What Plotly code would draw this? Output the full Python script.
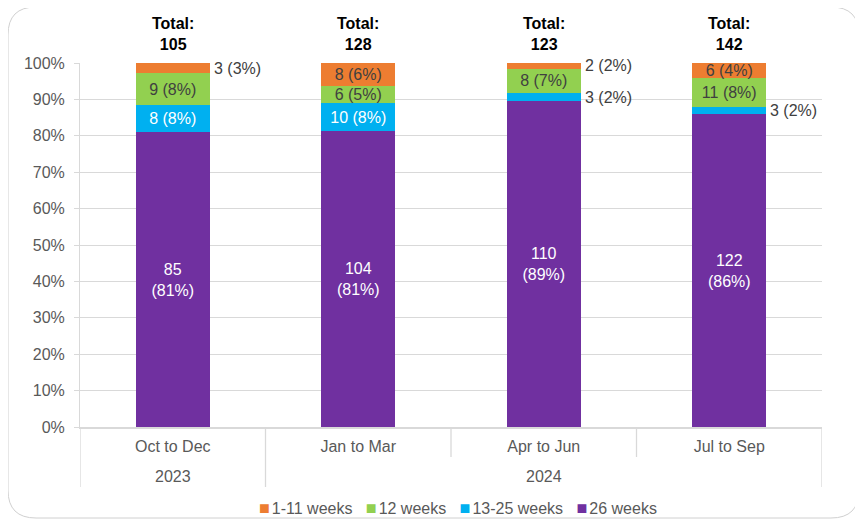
import plotly.graph_objects as go

years = ["2023", "2024"]
year_span = [[0], [1, 2, 3]]  # category indices covered by each year
quarters = ["Oct to Dec", "Jan to Mar", "Apr to Jun", "Jul to Sep"]
totals = [105, 128, 123, 142]

# series (bottom to top in the stack)
series_names = ["26 weeks", "13-25 weeks", "12 weeks", "1-11 weeks"]
legend_order = ["1-11 weeks", "12 weeks", "13-25 weeks", "26 weeks"]
counts = {
    "26 weeks": [85, 104, 110, 122],
    "13-25 weeks": [8, 10, 3, 3],
    "12 weeks": [9, 6, 8, 11],
    "1-11 weeks": [3, 8, 2, 6],
}
pct_labels = {
    "26 weeks": [81, 81, 89, 86],
    "13-25 weeks": [8, 8, 2, 2],
    "12 weeks": [8, 5, 7, 8],
    "1-11 weeks": [3, 6, 2, 4],
}
# which labels sit outside (to the right of) the bar
outside = {
    "26 weeks": [False, False, False, False],
    "13-25 weeks": [False, False, True, True],
    "12 weeks": [False, False, False, False],
    "1-11 weeks": [True, False, True, False],
}
colors = {
    "26 weeks": "#7030A0",
    "13-25 weeks": "#00B0F0",
    "12 weeks": "#92D050",
    "1-11 weeks": "#ED7D31",
}
text_colors = {
    "26 weeks": "white",
    "13-25 weeks": "white",
    "12 weeks": "#404040",
    "1-11 weeks": "#404040",
}

FONT = "Liberation Sans, Arial, sans-serif"
GRID = "#d9d9d9"
FS = 16

# page body adds an 8px offset; size figure to fit the 863x522 window
OFF = 8
W, H = 863 - OFF, 522 - OFF
PL, PR, PT, PB = 80, 822, 63, 427  # plot area in window pixels
L, T = PL - OFF, PT - OFF
R, B = W - (PR - OFF), H - (PB - OFF)
pw, ph = PR - PL, PB - PT
def px(x):
    return (x - PL) / pw
def py(y):
    return (PB - y) / ph

fig = go.Figure()
cum = [0.0] * len(quarters)
annotations = []
for name in series_names:
    vals = counts[name]
    pcts = [v / t * 100 for v, t in zip(vals, totals)]
    texts = []
    for i, (v, p) in enumerate(zip(vals, pct_labels[name])):
        if name == "26 weeks":
            lab = f"{v}<br>({p}%)"
        else:
            lab = f"{v} ({p}%)"
        if outside[name][i]:
            texts.append("")
            annotations.append(dict(
                x=i + 0.2, y=cum[i] + pcts[i] / 2, xref="x", yref="y",
                text=lab, showarrow=False, xanchor="left", yanchor="middle",
                xshift=2, font=dict(family=FONT, size=FS, color="#404040")))
        else:
            texts.append(lab)
    fig.add_trace(go.Bar(
        name=name,
        x=quarters,
        y=pcts,
        text=texts,
        textposition="inside",
        insidetextanchor="middle",
        textangle=0,
        textfont=dict(family=FONT, size=FS, color=text_colors[name]),
        marker=dict(color=colors[name], line=dict(width=0)),
        width=0.4,
        hoverinfo="skip",
        showlegend=False,
    ))
    cum = [c + p for c, p in zip(cum, pcts)]

for i, t in enumerate(totals):
    annotations.append(dict(
        x=i, y=100, xref="x", yref="y", text=f"<b>Total:<br>{t}</b>",
        showarrow=False, yanchor="bottom", yshift=8,
        font=dict(family=FONT, size=FS, color="black")))

# year labels (second level of the category axis)
for yr, span in zip(years, year_span):
    annotations.append(dict(
        x=(span[0] + span[-1]) / 2, y=py(476), xref="x", yref="paper",
        text=yr, showarrow=False, yanchor="middle",
        font=dict(family=FONT, size=FS, color="#595959")))

# legend as text with coloured squares
parts = []
for name in legend_order:
    parts.append(f'<span style="color:{colors[name]};font-size:18px">■</span>'
                 f'<span style="font-size:7px"> </span>{name}')
annotations.append(dict(
    x=px(458), y=py(508), xref="paper", yref="paper", xanchor="center",
    yanchor="middle", showarrow=False, text="   ".join(parts),
    font=dict(family=FONT, size=FS, color="#595959")))

shapes = []
# category dividers
n = len(quarters)
year_bounds = set()
for span in year_span:
    year_bounds.add(span[0] - 0.5)
    year_bounds.add(span[-1] + 0.5)
for k in range(n + 1):
    b = k - 0.5
    bottom = py(487) if b in year_bounds else py(457)
    shapes.append(dict(type="line", xref="x", yref="paper", x0=b, x1=b,
                       y0=0, y1=bottom, line=dict(color=GRID, width=1.3)))

# outer rounded border
x0, x1, y0, y1, r = 8, 859, 7, 518, 28
path = (
    f"M {px(x0 + r)},{py(y0)} L {px(x1 - r)},{py(y0)} "
    f"Q {px(x1)},{py(y0)} {px(x1)},{py(y0 + r)} "
    f"L {px(x1)},{py(y1 - r)} Q {px(x1)},{py(y1)} {px(x1 - r)},{py(y1)} "
    f"L {px(x0 + r)},{py(y1)} Q {px(x0)},{py(y1)} {px(x0)},{py(y1 - r)} "
    f"L {px(x0)},{py(y0 + r)} Q {px(x0)},{py(y0)} {px(x0 + r)},{py(y0)} Z"
)
shapes.append(dict(type="path", path=path, xref="paper", yref="paper",
                   line=dict(color="#d0d0d0", width=1), layer="below"))

fig.update_layout(
    width=W, height=H,
    margin=dict(l=L, r=R, t=T, b=B, autoexpand=False),
    barmode="stack",
    paper_bgcolor="white",
    plot_bgcolor="white",
    font=dict(family=FONT, size=FS, color="#595959"),
    uniformtext=dict(minsize=FS, mode="show"),
    showlegend=False,
    annotations=annotations,
    shapes=shapes,
)
fig.update_yaxes(
    range=[0, 100], dtick=10, ticksuffix="%", showgrid=True, gridcolor=GRID,
    gridwidth=1, showline=True, linecolor=GRID, linewidth=1,
    ticks="outside", ticklen=5, tickcolor=GRID, zeroline=False,
    ticklabelstandoff=6, automargin=False,
    tickfont=dict(family=FONT, size=FS, color="#595959"),
)
fig.update_xaxes(
    type="category", range=[-0.5, n - 0.5], showline=True, linecolor=GRID,
    linewidth=2, ticks="", ticklabelstandoff=4, automargin=False,
    tickfont=dict(family=FONT, size=FS, color="#595959"),
)

fig.write_html("out.html")
